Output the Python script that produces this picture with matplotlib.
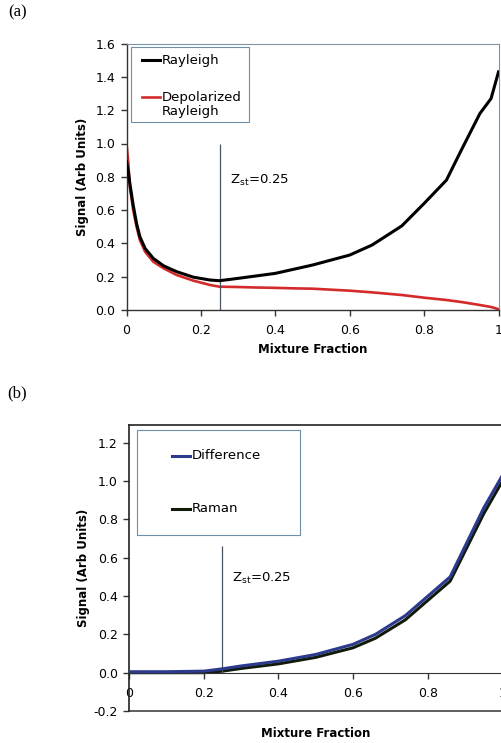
"""
Rayleigh / depolarized Rayleigh and difference / Raman signal vs mixture fraction.
"""
import numpy as np
import matplotlib
matplotlib.use("Agg")
import matplotlib.pyplot as plt
from matplotlib.patches import Rectangle
from matplotlib.lines import Line2D

matplotlib.rcParams.update({
    "font.family": "DejaVu Sans",
    "axes.unicode_minus": False,
    "mathtext.fontset": "dejavusans",
})

# ---------------------------------------------------------------------------
# Data
# ---------------------------------------------------------------------------
mix_a = [0.000, 0.005, 0.009, 0.018, 0.027, 0.036, 0.050, 0.072, 0.100,
         0.135, 0.180, 0.225, 0.250, 0.30, 0.35, 0.40, 0.45, 0.50, 0.55,
         0.60, 0.66, 0.74, 0.80, 0.86, 0.90, 0.95, 0.98, 1.00]
rayleigh = [0.89, 0.83, 0.76, 0.63, 0.52, 0.44, 0.37, 0.31, 0.265, 0.23,
            0.197, 0.18, 0.176, 0.19, 0.205, 0.22, 0.245, 0.27, 0.30, 0.33,
            0.39, 0.505, 0.64, 0.78, 0.96, 1.18, 1.27, 1.43]
depolarized = [1.00, 0.88, 0.74, 0.60, 0.50, 0.42, 0.35, 0.29, 0.25, 0.21,
               0.176, 0.15, 0.14, 0.138, 0.135, 0.133, 0.13, 0.128, 0.122,
               0.116, 0.106, 0.09, 0.074, 0.06, 0.048, 0.03, 0.018, 0.005]

mix_b = [0.00, 0.10, 0.20, 0.25, 0.30, 0.40, 0.50, 0.60, 0.66, 0.74, 0.86,
         0.95, 1.00]
difference = [0.005, 0.005, 0.008, 0.02, 0.035, 0.06, 0.095, 0.148, 0.20,
               0.298, 0.50, 0.86, 1.03]
raman = [0.0, 0.0, 0.0, 0.008, 0.022, 0.046, 0.08, 0.13, 0.18, 0.276, 0.478,
         0.83, 1.00]

z_st = 0.25
x_ticks = [0, 0.2, 0.4, 0.6, 0.8, 1.0]
x_ticklabels = ["0", "0.2", "0.4", "0.6", "0.8", "1"]

RED, BLACK = "#d42a2a", "black"
BLUE, DARK = "#2b3a8c", "#121a0a"

W, H = 501, 743
fig = plt.figure(figsize=(W / 100, H / 100), dpi=100)


def px_axes(left, top, right, bottom):
    return fig.add_axes([left / W, 1 - bottom / H, (right - left) / W,
                         (bottom - top) / H])


def box_legend(ax, box, entries, x_line, x_text):
    """Excel-style legend: plain box, short line, text (axes coords)."""
    x0, y0, w, h = box
    ax.add_patch(Rectangle((x0, y0), w, h, transform=ax.transAxes,
                           facecolor="white", edgecolor="#6f8fa8", lw=0.8,
                           zorder=4))
    for y_line, y_txt, col, lw, lab in entries:
        ax.add_line(Line2D(x_line, [y_line, y_line], transform=ax.transAxes,
                           color=col, lw=lw, zorder=5))
        ax.text(x_text, y_txt, lab, transform=ax.transAxes, fontsize=9.5,
                va="center", linespacing=1.1, zorder=5)


def style_ticks(ax):
    ax.set_xlim(0, 1)
    ax.set_xticks(x_ticks, x_ticklabels)
    ax.yaxis.set_major_formatter(
        matplotlib.ticker.FormatStrFormatter("%.1f"))
    ax.tick_params(labelsize=9, length=4, width=1, color="#333333", pad=4)
    ax.tick_params(axis="x", pad=6)
    ax.set_xlabel("Mixture Fraction", fontsize=8.5, fontweight="bold")
    ax.set_ylabel("Signal (Arb Units)", fontsize=8.5, fontweight="bold")


# ---------------------------------------------------------------------------
# (a)
# ---------------------------------------------------------------------------
ax = px_axes(126.5, 43.6, 498.5, 310)
ax.plot(mix_a, depolarized, color=RED, lw=1.9, zorder=2)
ax.plot(mix_a, rayleigh, color=BLACK, lw=2.2, zorder=3)
ax.vlines(z_st, 0, 1.0, color="#4a5560", lw=0.9)
ax.text(0.278, 0.78, r"Z$_{\rm st}$=0.25", fontsize=9.5, va="center")

style_ticks(ax)
ax.set_ylim(0, 1.6)
ax.set_yticks(np.arange(0, 1.61, 0.2))
for s in ("left", "bottom"):
    ax.spines[s].set_color("#333333")
    ax.spines[s].set_linewidth(1.0)
for s in ("top", "right"):
    ax.spines[s].set_color("#8094a8")
    ax.spines[s].set_linewidth(0.8)
ax.xaxis.set_label_coords(0.5, -0.125)
ax.yaxis.set_label_coords(-0.10, 0.5)

box_legend(ax, (0.012, 0.706, 0.317, 0.281),
           [(0.938, 0.938, BLACK, 2.2, "Rayleigh"),
            (0.800, 0.771, RED, 1.9, "Depolarized\nRayleigh")],
           x_line=[0.041, 0.090], x_text=0.095)

# ---------------------------------------------------------------------------
# (b)
# ---------------------------------------------------------------------------
bx = px_axes(129, 425, 502.4, 711)
bx.plot(mix_b, raman, color=DARK, lw=2.2, zorder=2)
bx.plot(mix_b, difference, color=BLUE, lw=2.2, zorder=3)
bx.vlines(z_st, 0, 0.66, color="#4a5560", lw=0.9)
bx.text(0.277, 0.49, r"Z$_{\rm st}$=0.25", fontsize=9.5, va="center")

style_ticks(bx)
bx.set_ylim(-0.2, 1.293)
bx.set_yticks(np.arange(-0.2, 1.21, 0.2))
bx.spines["bottom"].set_position(("data", 0))
bx.spines["bottom"].set_color("#333333")
for s in ("left", "top", "right"):
    bx.spines[s].set_color("#222222")
    bx.spines[s].set_linewidth(1.2)
bx.axhline(-0.2, color="#444444", lw=1.2, clip_on=False)
bx.xaxis.set_label_coords(0.5, -0.055)
bx.yaxis.set_label_coords(-0.105, 0.5)

box_legend(bx, (0.021, 0.615, 0.437, 0.367),
           [(0.892, 0.892, BLUE, 2.2, "Difference"),
            (0.708, 0.708, DARK, 2.2, "Raman")],
           x_line=[0.115, 0.163], x_text=0.169)

fig.text(8 / W, 1 - 12 / H, "(a)", family="Liberation Serif", fontsize=12,
         va="center")
fig.text(7 / W, 1 - 393 / H, "(b)", family="Liberation Serif", fontsize=12,
         va="center")

fig.savefig("out.png", dpi=100)
